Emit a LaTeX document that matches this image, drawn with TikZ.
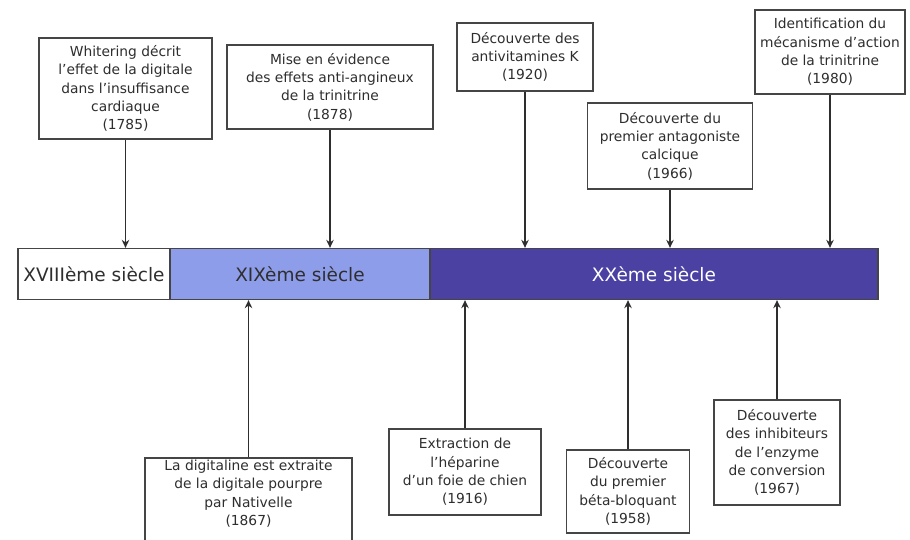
\documentclass[tikz,border=0pt]{standalone}
\usepackage{fontspec}
\setmainfont{DejaVu Sans}
\usetikzlibrary{arrows.meta}
\definecolor{inkgray}{HTML}{2E2E2E}
\definecolor{framegray}{HTML}{454545}
\definecolor{lightcent}{HTML}{8E9DEA}
\definecolor{darkcent}{HTML}{4B41A3}
\tikzset{
  event/.style={draw=framegray, line width=1.4pt, fill=white, text=inkgray,
    align=center, inner sep=0pt, font=\fontsize{13.8}{18.3}\selectfont},
  century/.style={draw=framegray, line width=1.3pt, inner sep=0pt,
    minimum height=51pt, font=\fontsize{18.5}{20}\selectfont},
  link/.style={draw=inkgray, line width=1.9pt,
    -{Stealth[length=8pt,width=7.5pt]}},
}
\begin{document}
\begin{tikzpicture}[x=1pt,y=-1pt]
\clip (0,0) rectangle (910,540);
\fill[white] (0,0) rectangle (910,540);

% the century bar
\node[century, fill=white, text=inkgray, minimum width=152pt] (c18) at (94,274) {XVIIIème siècle};
\node[century, fill=lightcent, text=inkgray, minimum width=260pt] (c19) at (300,274) {XIXème siècle};
\node[century, fill=darkcent, text=white, minimum width=448pt] (c20) at (654,274) {XXème siècle};

% events above the bar
\node[event, minimum width=173pt, minimum height=101pt] (whit) at (125.5,88.5)
  {Whitering décrit\\l'effet de la digitale\\dans l'insuffisance\\cardiaque\\(1785)};
\node[event, minimum width=206pt, minimum height=84pt] (trin) at (330,87)
  {Mise en évidence\\des effets anti-angineux\\de la trinitrine\\(1878)};
\node[event, minimum width=136pt, minimum height=68pt] (avk) at (525,57)
  {Découverte des\\antivitamines K\\(1920)};
\node[event, minimum width=165pt, minimum height=86pt] (calc) at (670,146)
  {Découverte du\\premier antagoniste\\calcique\\(1966)};
\node[event, minimum width=150pt, minimum height=84pt] (meca) at (830,52)
  {Identification du\\mécanisme d'action\\de la trinitrine\\(1980)};

% events below the bar
\node[event, minimum width=207pt, minimum height=100pt] (digi) at (248.5,508)
  {La digitaline est extraite\\de la digitale pourpre\\par Nativelle\\(1867)\\[12pt]};
\node[event, minimum width=152pt, minimum height=86pt] (hep) at (465,472)
  {Extraction de\\l'héparine\\d'un foie de chien\\(1916)};
\node[event, minimum width=123pt, minimum height=83pt] (beta) at (628,491.5)
  {Découverte\\du premier\\béta-bloquant\\(1958)};
\node[event, minimum width=126pt, minimum height=105pt] (iec) at (777,452.5)
  {Découverte\\des inhibiteurs\\de l'enzyme\\de conversion\\(1967)};

% connectors into the bar
\draw[link] (whit.south) -- (whit.south |- c18.north);
\draw[link] (trin.south) -- (trin.south |- c19.north);
\draw[link] (avk.south) -- (avk.south |- c20.north);
\draw[link] (calc.south) -- (calc.south |- c20.north);
\draw[link] (meca.south) -- (meca.south |- c20.north);
\draw[link] (digi.north) -- (digi.north |- c19.south);
\draw[link] (hep.north) -- (hep.north |- c20.south);
\draw[link] (beta.north) -- (beta.north |- c20.south);
\draw[link] (iec.north) -- (iec.north |- c20.south);
\end{tikzpicture}
\end{document}
